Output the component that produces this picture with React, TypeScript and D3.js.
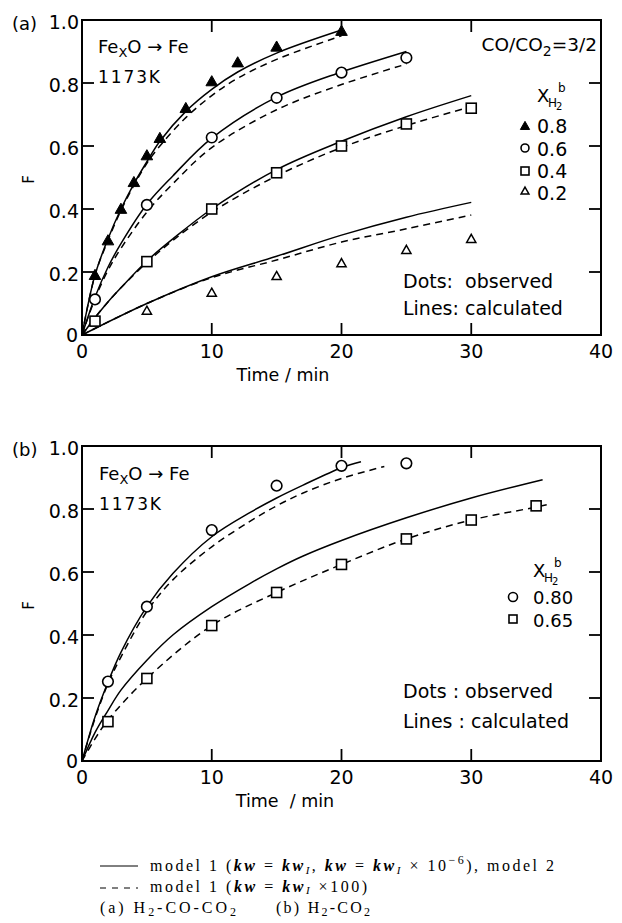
import React from 'react';
import * as d3 from 'd3';

// ---------- Data: panel (a) H2-CO-CO2 ----------
const tA08 = [1, 2, 3, 4, 5, 6, 8, 10, 12, 15, 20];
const fA08 = [0.19, 0.30, 0.40, 0.485, 0.57, 0.625, 0.72, 0.805, 0.865, 0.915, 0.965];
const tA06 = [1, 5, 10, 15, 20, 25];
const fA06 = [0.113, 0.413, 0.627, 0.753, 0.833, 0.88];
const tA04 = [1, 5, 10, 15, 20, 25, 30];
const fA04 = [0.044, 0.233, 0.40, 0.515, 0.60, 0.67, 0.72];
const tA02 = [5, 10, 15, 20, 25, 30];
const fA02 = [0.077, 0.134, 0.187, 0.228, 0.27, 0.305];

// calculated lines (a)
const lsA08t = [0, 1, 2, 3, 4, 5, 6, 8, 10, 12, 15, 20];
const lsA08f = [0, 0.19, 0.305, 0.40, 0.48, 0.55, 0.615, 0.71, 0.78, 0.835, 0.895, 0.968];
const ldA08f = [0, 0.19, 0.30, 0.395, 0.475, 0.545, 0.60, 0.69, 0.76, 0.815, 0.875, 0.95];
const lA06t = [0, 1, 2, 3, 5, 7, 10, 15, 20, 25];
const lsA06f = [0, 0.12, 0.215, 0.29, 0.415, 0.505, 0.625, 0.755, 0.835, 0.90];
const ldA06f = [0, 0.115, 0.205, 0.275, 0.39, 0.48, 0.595, 0.715, 0.795, 0.86];
const lA04t = [0, 1, 2, 3, 5, 7, 10, 15, 20, 25, 30];
const lsA04f = [0, 0.055, 0.105, 0.15, 0.235, 0.305, 0.40, 0.525, 0.615, 0.693, 0.76];
const ldA04f = [0, 0.055, 0.105, 0.15, 0.23, 0.30, 0.39, 0.505, 0.595, 0.665, 0.725];
const lA02t = [0, 5, 10, 15, 20, 25, 30];
const lsA02f = [0, 0.10, 0.185, 0.25, 0.317, 0.374, 0.421];
const ldA02f = [0, 0.10, 0.182, 0.238, 0.295, 0.337, 0.381];

// ---------- Data: panel (b) H2-CO2 ----------
const tB80 = [2, 5, 10, 15, 20, 25];
const fB80 = [0.252, 0.49, 0.733, 0.874, 0.937, 0.945];
const tB65 = [2, 5, 10, 15, 20, 25, 30, 35];
const fB65 = [0.125, 0.262, 0.43, 0.535, 0.624, 0.705, 0.765, 0.81];

const lsB80t = [0, 1, 2, 3, 5, 7, 10, 13, 15, 17, 20, 21.5];
const lsB80f = [0, 0.14, 0.25, 0.345, 0.49, 0.595, 0.712, 0.79, 0.835, 0.875, 0.931, 0.95];
const ldB80t = [0, 1, 2, 3, 5, 7, 10, 13, 15, 17, 20, 23.3];
const ldB80f = [0, 0.135, 0.245, 0.33, 0.475, 0.575, 0.68, 0.762, 0.81, 0.85, 0.897, 0.935];
const lsB65t = [0, 1, 2, 3, 5, 7, 10, 13, 15, 17, 20, 25, 30, 35.5];
const lsB65f = [0, 0.09, 0.16, 0.225, 0.32, 0.40, 0.49, 0.565, 0.61, 0.65, 0.70, 0.772, 0.835, 0.893];
const ldB65t = [0, 1, 2, 5, 10, 15, 20, 25, 30, 35, 36];
const ldB65f = [0, 0.07, 0.13, 0.262, 0.43, 0.535, 0.624, 0.705, 0.765, 0.806, 0.815];

const xTicks = [0, 10, 20, 30, 40];
const yTicks = [0.2, 0.4, 0.6, 0.8, 1.0];

const SANS = 'DejaVu Sans';
const SERIF = 'Liberation Serif';

const x = d3.scaleLinear().domain([0, 40]).range([82, 601]);
const yA = d3.scaleLinear().domain([0, 1]).range([335, 20]);
const yB = d3.scaleLinear().domain([0, 1]).range([761, 446]);

const zip = (t: number[], f: number[]) => t.map((v, i) => [v, f[i]] as [number, number]);

function pathOf(y: d3.ScaleLinear<number, number>, t: number[], f: number[]) {
  return d3.line<[number, number]>()
    .x(d => x(d[0]))
    .y(d => y(d[1]))
    .curve(d3.curveCatmullRom.alpha(0.5))(zip(t, f)) || '';
}

function Marker({ type, cx, cy, s = 1 }: { type: string; cx: number; cy: number; s?: number }) {
  if (type === 'triF') {
    const a = 5.8 * s;
    return <path d={`M${cx},${cy - a}L${cx + a},${cy + a * 0.75}L${cx - a},${cy + a * 0.75}Z`} fill="#000" stroke="#000" strokeWidth={1} />;
  }
  if (type === 'triO') {
    const a = 4.6 * s;
    return <path d={`M${cx},${cy - a}L${cx + a},${cy + a * 0.75}L${cx - a},${cy + a * 0.75}Z`} fill="#fff" stroke="#000" strokeWidth={1.5} />;
  }
  if (type === 'circ') {
    return <circle cx={cx} cy={cy} r={5.3 * s} fill="#fff" stroke="#000" strokeWidth={1.6} />;
  }
  const h = 5 * s;
  return <rect x={cx - h} y={cy - h} width={2 * h} height={2 * h} fill="#fff" stroke="#000" strokeWidth={1.6} />;
}

function Frame({ y }: { y: d3.ScaleLinear<number, number> }) {
  const [y0, y1] = y.range();
  const x0 = x(0), x1 = x(40);
  const tl = 12;
  return (
    <g>
      <rect x={x0} y={y1} width={x1 - x0} height={y0 - y1} fill="none" stroke="#000" strokeWidth={2} />
      {yTicks.filter(v => v < 1).map(v => (
        <g key={v}>
          <line x1={x0} x2={x0 + tl} y1={y(v)} y2={y(v)} stroke="#000" strokeWidth={1.8} />
          <line x1={x1} x2={x1 - tl} y1={y(v)} y2={y(v)} stroke="#000" strokeWidth={1.8} />
        </g>
      ))}
      {xTicks.filter(v => v > 0 && v < 40).map(v => (
        <g key={v}>
          <line x1={x(v)} x2={x(v)} y1={y0} y2={y0 - tl} stroke="#000" strokeWidth={1.8} />
          <line x1={x(v)} x2={x(v)} y1={y1} y2={y1 + tl} stroke="#000" strokeWidth={1.8} />
        </g>
      ))}
      {yTicks.map(v => (
        <text key={v} x={79} y={y(v) + 2} textAnchor="end" dominantBaseline="central"
          fontFamily={SANS} fontSize={19}>{v.toFixed(1)}</text>
      ))}
      <text x={78} y={y0} textAnchor="end" dominantBaseline="central" fontFamily={SANS} fontSize={19}>0</text>
      {xTicks.map(v => (
        <text key={v} x={x(v)} y={y0 + 23} textAnchor="middle" fontFamily={SANS} fontSize={19}>{v}</text>
      ))}
      <text transform={`translate(29,${(y0 + y1) / 2 + 2}) rotate(-90)`} textAnchor="middle" dominantBaseline="central"
        fontFamily={SANS} fontSize={15}>F</text>
    </g>
  );
}

function FeLabel({ x0, yb }: { x0: number; yb: number }) {
  return (
    <g fontFamily={SANS}>
      <text x={x0} y={yb} fontSize={18}>Fe<tspan fontSize={13} dy={4}>X</tspan><tspan dy={-4}>O → Fe</tspan></text>
      <text x={x0} y={yb + 30} fontSize={17} textLength={62} lengthAdjust="spacing">1173K</text>
    </g>
  );
}

function XH2({ x0, yb }: { x0: number; yb: number }) {
  return (
    <g fontFamily={SANS}>
      <text x={x0} y={yb} fontSize={18}>X</text>
      <text x={x0 + 11} y={yb + 5} fontSize={12}>H</text>
      <text x={x0 + 19} y={yb + 8} fontSize={10}>2</text>
      <text x={x0 + 21} y={yb - 10} fontSize={12}>b</text>
    </g>
  );
}

export default function App() {
  const dash = '7 5';
  return (
    <svg width={622} height={923} style={{ position: 'absolute', left: 0, top: 0, background: '#fff' }}>
      <rect width={622} height={923} fill="#fff" />
      {/* ---------- Panel (a) ---------- */}
      <text x={12} y={30} fontFamily={SANS} fontSize={18}>(a)</text>
      <g fill="none" stroke="#000" strokeWidth={1.5}>
        <path d={pathOf(yA, lsA08t, lsA08f)} />
        <path d={pathOf(yA, lsA08t, ldA08f)} strokeDasharray={dash} />
        <path d={pathOf(yA, lA06t, lsA06f)} />
        <path d={pathOf(yA, lA06t, ldA06f)} strokeDasharray={dash} />
        <path d={pathOf(yA, lA04t, lsA04f)} />
        <path d={pathOf(yA, lA04t, ldA04f)} strokeDasharray={dash} />
        <path d={pathOf(yA, lA02t, lsA02f)} />
        <path d={pathOf(yA, lA02t, ldA02f)} strokeDasharray={dash} />
      </g>
      {tA08.map((t, i) => <Marker key={'a8' + i} type="triF" cx={x(t)} cy={yA(fA08[i])} />)}
      {tA06.map((t, i) => <Marker key={'a6' + i} type="circ" cx={x(t)} cy={yA(fA06[i])} />)}
      {tA04.map((t, i) => <Marker key={'a4' + i} type="sq" cx={x(t)} cy={yA(fA04[i])} />)}
      {tA02.map((t, i) => <Marker key={'a2' + i} type="triO" cx={x(t)} cy={yA(fA02[i])} />)}
      <Frame y={yA} />
      <FeLabel x0={98} yb={53} />
      <text x={597} y={51} textAnchor="end" fontFamily={SANS} fontSize={18.5}>CO/CO<tspan fontSize={14} dy={5}>2</tspan><tspan dy={-5}>=3/2</tspan></text>
      <XH2 x0={537} yb={102} />
      <Marker type="triF" cx={525} cy={126} s={0.8} />
      <Marker type="circ" cx={525} cy={148} s={0.75} />
      <Marker type="sq" cx={525} cy={171} s={0.8} />
      <Marker type="triO" cx={525} cy={191} s={0.85} />
      <g fontFamily={SANS} fontSize={19}>
        <text x={537} y={133}>0.8</text>
        <text x={537} y={156}>0.6</text>
        <text x={537} y={178}>0.4</text>
        <text x={537} y={200}>0.2</text>
        <text x={403} y={288} style={{ whiteSpace: 'pre' }}>Dots:  observed</text>
        <text x={403} y={315}>Lines: calculated</text>
      </g>
      <text x={283} y={381} textAnchor="middle" fontFamily={SANS} fontSize={17.5} style={{ whiteSpace: 'pre' }}>Time / min</text>

      {/* ---------- Panel (b) ---------- */}
      <text x={12} y={456} fontFamily={SANS} fontSize={18}>(b)</text>
      <g fill="none" stroke="#000" strokeWidth={1.5}>
        <path d={pathOf(yB, lsB80t, lsB80f)} />
        <path d={pathOf(yB, ldB80t, ldB80f)} strokeDasharray={dash} />
        <path d={pathOf(yB, lsB65t, lsB65f)} />
        <path d={pathOf(yB, ldB65t, ldB65f)} strokeDasharray={dash} />
      </g>
      {tB80.map((t, i) => <Marker key={'b8' + i} type="circ" cx={x(t)} cy={yB(fB80[i])} />)}
      {tB65.map((t, i) => <Marker key={'b6' + i} type="sq" cx={x(t)} cy={yB(fB65[i])} />)}
      <Frame y={yB} />
      <FeLabel x0={99} yb={480} />
      <XH2 x0={533} yb={577} />
      <Marker type="circ" cx={513} cy={597} s={0.85} />
      <Marker type="sq" cx={513} cy={619} s={0.8} />
      <g fontFamily={SANS} fontSize={18}>
        <text x={533} y={604}>0.80</text>
        <text x={533} y={627}>0.65</text>
      </g>
      <g fontFamily={SANS} fontSize={19}>
        <text x={403} y={698}>Dots : observed</text>
        <text x={403} y={728}>Lines : calculated</text>
      </g>
      <text x={285} y={807} textAnchor="middle" fontFamily={SANS} fontSize={17.5} style={{ whiteSpace: 'pre' }}>Time  / min</text>

      {/* ---------- Caption ---------- */}
      <line x1={100} x2={138} y1={866} y2={866} stroke="#000" strokeWidth={1} />
      <line x1={100} x2={138} y1={888} y2={888} stroke="#000" strokeWidth={1} strokeDasharray="6 6" />
      <g fontFamily={SERIF} fontSize={16}>
        <text x={150} y={871} textLength={404} lengthAdjust="spacing" style={{ whiteSpace: 'pre' }}>
          model 1 (<tspan fontWeight="bold" fontStyle="italic">kw</tspan> = <tspan fontWeight="bold" fontStyle="italic">kw</tspan><tspan fontStyle="italic" fontSize={11} dy={3}>I</tspan><tspan dy={-3}>, </tspan><tspan fontWeight="bold" fontStyle="italic">kw</tspan> = <tspan fontWeight="bold" fontStyle="italic">kw</tspan><tspan fontStyle="italic" fontSize={11} dy={3}>I</tspan><tspan dy={-3}> × 10</tspan><tspan fontSize={12} dy={-7}>−6</tspan><tspan dy={7}>), model 2</tspan>
        </text>
        <text x={150} y={892} textLength={217} lengthAdjust="spacing" style={{ whiteSpace: 'pre' }}>
          model 1 (<tspan fontWeight="bold" fontStyle="italic">kw</tspan> = <tspan fontWeight="bold" fontStyle="italic">kw</tspan><tspan fontStyle="italic" fontSize={11} dy={2}>I</tspan><tspan dy={-2}> ×100)</tspan>
        </text>
        <text x={100} y={913} textLength={136} lengthAdjust="spacing" style={{ whiteSpace: 'pre' }}>
          (a) H<tspan fontSize={12} dy={3}>2</tspan><tspan dy={-3}>-CO-CO</tspan><tspan fontSize={12} dy={3}>2</tspan>
        </text>
        <text x={276} y={913} textLength={94} lengthAdjust="spacing" style={{ whiteSpace: 'pre' }}>
          (b) H<tspan fontSize={12} dy={3}>2</tspan><tspan dy={-3}>-CO</tspan><tspan fontSize={12} dy={3}>2</tspan>
        </text>
      </g>
    </svg>
  );
}
